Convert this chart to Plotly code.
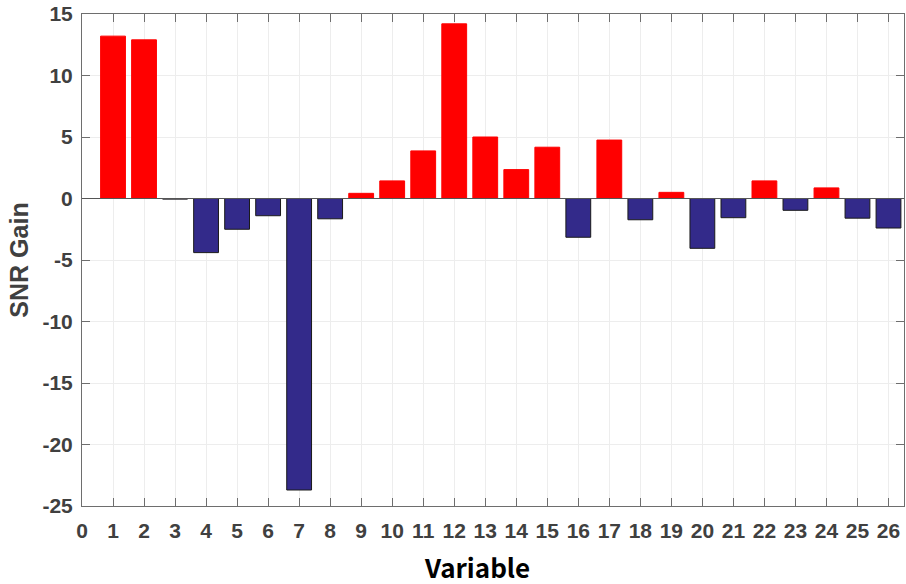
import plotly.graph_objects as go

variables = list(range(1, 27))
snr_gain = [13.2, 12.9, -0.05, -4.4, -2.5, -1.4, -23.7, -1.65, 0.42, 1.43,
            3.87, 14.2, 5.0, 2.35, 4.17, -3.15, 4.75, -1.73, 0.5, -4.05,
            -1.56, 1.43, -0.96, 0.86, -1.6, -2.4]
x_ticks = list(range(0, 27))
y_ticks = [-25, -20, -15, -10, -5, 0, 5, 10, 15]

POS = "#ff0000"
NEG = "#332a8a"
fill = [POS if v > 0 else NEG for v in snr_gain]
edge = [POS if v > 0 else "#1a1a1a" for v in snr_gain]

fig = go.Figure(go.Bar(
    x=variables, y=snr_gain, width=0.8,
    marker=dict(color=fill, line=dict(color=edge, width=1)),
    showlegend=False,
))

tick_font = dict(family="Liberation Sans", size=21, color="#404040", weight="bold")
axis_common = dict(
    showline=True, linecolor="#6e6e6e", linewidth=1, mirror="ticks",
    ticks="inside", ticklen=8, tickcolor="#6e6e6e", tickwidth=1,
    showgrid=True, gridcolor="#ededed", gridwidth=1, zeroline=False,
    tickfont=tick_font,
)

fig.update_layout(
    width=906, height=584,
    margin=dict(l=82, r=2, t=14, b=78, autoexpand=False),
    paper_bgcolor="white", plot_bgcolor="white",
    xaxis=dict(range=[0, 26.5], tickmode="array", tickvals=x_ticks,
               ticktext=[str(t) for t in x_ticks], ticklabelstandoff=6, **axis_common),
    yaxis=dict(range=[-25, 15], tickmode="array", tickvals=y_ticks,
               ticktext=[str(t) for t in y_ticks], ticklabelstandoff=4,
               title=dict(text="SNR Gain", standoff=6,
                          font=dict(family="Liberation Sans", size=25, color="#404040", weight="bold")),
               **axis_common),
    shapes=[dict(type="line", xref="paper", x0=0, x1=1, yref="y", y0=0, y1=0,
                 line=dict(color="#555555", width=1), layer="above")],
    annotations=[dict(text="Variable", xref="paper", yref="paper", x=0.48, y=-0.122,
                      xanchor="center", yanchor="middle", showarrow=False,
                      font=dict(family="Noto Sans CJK KR", size=26, color="black", weight="bold"))],
)

fig.write_html("out.html", config={"displayModeBar": False},
               post_script="document.body.style.margin='0';document.body.style.overflow='hidden';")
